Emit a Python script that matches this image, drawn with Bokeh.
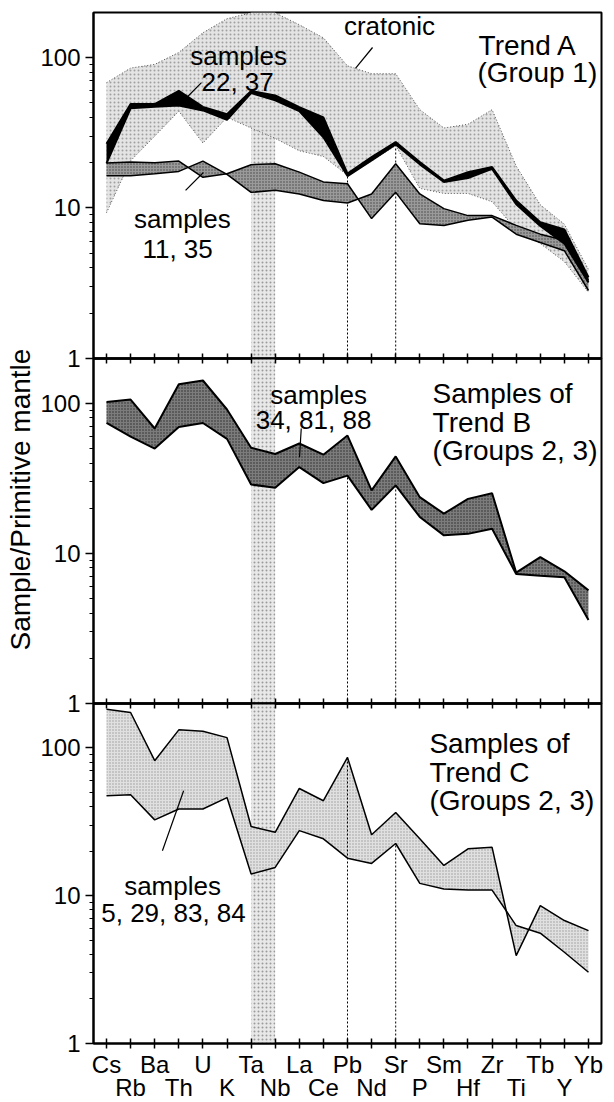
import math
from bokeh.plotting import figure
from bokeh.layouts import column
from bokeh.models import (FixedTicker, LinearAxis, Range1d, BoxAnnotation, Label, Title,
                          PrintfTickFormatter, ColumnDataSource)
from bokeh.embed import file_html
from bokeh.resources import INLINE

elements = ["Cs", "Rb", "Ba", "Th", "U", "K", "Ta", "Nb", "La", "Ce", "Pb",
            "Nd", "Sr", "P", "Sm", "Hf", "Zr", "Ti", "Tb", "Y", "Yb"]

# ---- Trend A (Group 1) ----
cratonic_hi = [68, 85, 90, 108, 146, 181, 198, 198, 165, 135, 88, 78, 78, 45, 34, 36, 45, 19, 10.5, 7.8, 3.9]
cratonic_lo = [9.3, 20.6, 30, 44, 27, 40, 34, 29, 24, 22, 16.5, 20.5, 26, 13.5, 12.5, 12.5, 11, 7.2, 5.8, 4.4, 2.75]
s22_37_hi = [26.7, 49, 49, 60, 47, 42, 60, 56, 46.8, 40, 16.9, 21.8, 27.4, 20.2, 15.2, 17.3, 18.7, 11.2, 8.05, 7.2, 3.47]
s22_37_lo = [19.8, 46, 47, 48, 44.5, 38.5, 58, 52, 44, 29.5, 16.3, 20.7, 26.4, 19.5, 14.9, 15.8, 18.2, 10.6, 7.6, 5.8, 3.2]
s11_35_a = [19.9, 20.2, 20, 20.5, 16, 16.9, 19.4, 19.7, 17.3, 14.9, 14.5, 8.5, 12.7, 7.85, 7.66, 8.3, 8.7, 6.7, 5.9, 5.2, 2.83]
s11_35_b = [16.4, 16.4, 16.9, 17.5, 20.5, 16.7, 12.7, 13.1, 12.4, 11.2, 10.8, 12.4, 19.7, 12.4, 9.9, 8.9, 8.9, 7.66, 6.7, 6.1, 3.3]

# ---- Trend B (Groups 2, 3) ----
trendB_hi = [102, 106, 68, 134, 142, 91, 50.6, 46, 54, 45.5, 61, 26.3, 44.3, 23.7, 18.4, 23.1, 25.2, 7.45, 9.45, 7.6, 5.67]
trendB_lo = [74, 60, 50, 69.5, 74, 58, 28.8, 27.4, 37.6, 29.4, 33, 19.5, 28.4, 17.5, 13.2, 13.5, 14.6, 7.3, 7.1, 6.95, 3.6]

# ---- Trend C (Groups 2, 3) ----
trendC_a = [182, 173, 81.7, 132, 129, 117, 29.3, 26.8, 53, 43.8, 86, 25.8, 36.5, 24.2, 16, 20.7, 21.2, 3.93, 8.55, 6.78, 5.8]
trendC_b = [47.4, 48, 32.5, 38.5, 38.5, 46, 14, 15.5, 27.5, 24.2, 17.9, 16.5, 22.5, 12.1, 11.1, 10.9, 10.9, 6.27, 5.57, 4.14, 3.03]

y_ticks = [1, 10, 100]
y_minor = [m * d for d in (1, 10, 100) for m in range(2, 10)]

FONT = "Liberation Sans"
OVER = 14  # room kept below/above each frame for the "1" tick label; panels overlap by it
idx = list(range(len(elements)))
TA, NB, PB, SR = (elements.index(e) for e in ("Ta", "Nb", "Pb", "Sr"))


def base_panel(frame_h, border_top, border_bottom, pull_up, transparent):
    kw = {}
    if pull_up:
        kw["margin"] = (-pull_up, 0, 0, 0)
    p = figure(frame_width=508, frame_height=frame_h,
               x_range=Range1d(-0.54, 20.54), y_range=Range1d(1, 199),
               y_axis_type="log", x_axis_location=None,
               output_backend="svg", toolbar_location=None,
               min_border_left=93, min_border_right=8,
               min_border_top=border_top, min_border_bottom=border_bottom,
               background_fill_color=None if transparent else "white",
               border_fill_color=None if transparent else "white", **kw)
    p.xgrid.visible = False
    p.ygrid.visible = False
    p.outline_line_color = "black"
    p.outline_line_width = 2
    ya = p.yaxis[0]
    ya.ticker = FixedTicker(ticks=y_ticks, minor_ticks=y_minor)
    ya.formatter = PrintfTickFormatter(format="%d")
    ya.major_tick_out = 8
    ya.major_tick_in = 0
    ya.minor_tick_out = 4
    ya.minor_tick_in = 0
    ya.major_tick_line_width = 1.5
    ya.axis_line_width = 2
    ya.major_label_standoff = 5
    ya.major_label_text_font = FONT
    ya.major_label_text_font_size = "24px"
    ya.major_label_text_color = "black"
    # stippled vertical band Ta-Nb
    p.add_layout(BoxAnnotation(left=TA, right=NB, level="underlay",
                               fill_color="#e8e8e8", fill_alpha=1.0, line_color=None,
                               hatch_pattern="dot", hatch_color="#9a9a9a",
                               hatch_scale=4, hatch_weight=1))
    return p


def tick_axis(p, place):
    # crossing tick marks along a shared panel boundary (minor ticks carry no labels)
    ax = LinearAxis(ticker=FixedTicker(ticks=[], minor_ticks=idx),
                    minor_tick_in=5, minor_tick_out=0,
                    major_tick_in=0, major_tick_out=0,
                    major_label_standoff=0,
                    axis_line_width=2, minor_tick_line_width=1.5,
                    minor_tick_line_color="black")
    p.add_layout(ax, place)


def label(p, x, y, text, align="center", size="26px"):
    p.add_layout(Label(x=x, y=y, text=text, text_align=align, text_baseline="alphabetic",
                       text_font=FONT, text_font_size=size, text_color="black"))


def band(p, a, b, fill, hatch_color, line_w=1.5):
    src = ColumnDataSource(dict(x=idx, a=a, b=b))
    p.varea(x="x", y1="a", y2="b", source=src, fill_color=fill, fill_alpha=1.0,
            hatch_pattern="dot", hatch_color=hatch_color, hatch_scale=3, hatch_weight=1)
    p.line(x="x", y="a", source=src, line_color="black", line_width=line_w)
    p.line(x="x", y="b", source=src, line_color="black", line_width=line_w)


# ================= Panel A =================
p1 = base_panel(346, 12, OVER, 0, False)
tick_axis(p1, "below")
csrc = ColumnDataSource(dict(x=idx, hi=cratonic_hi, lo=cratonic_lo))
p1.varea(x="x", y1="hi", y2="lo", source=csrc, fill_color="#e4e4e4", fill_alpha=1.0,
         hatch_pattern="dot", hatch_color="#a0a0a0", hatch_scale=4, hatch_weight=1)
p1.line(x="x", y="hi", source=csrc, line_color="#555555", line_width=1, line_dash="1 2")
p1.line(x="x", y="lo", source=csrc, line_color="#555555", line_width=1, line_dash="1 2")
p1.segment(x0=[PB, SR], y0=[1, 1], x1=[PB, SR], y1=[s22_37_hi[PB], s22_37_hi[SR]],
           line_color="black", line_width=1, line_dash="2 2")
band(p1, s11_35_a, s11_35_b, "#9a9a9a", "#444444")
bsrc = ColumnDataSource(dict(x=idx, hi=s22_37_hi, lo=s22_37_lo))
p1.varea(x="x", y1="hi", y2="lo", source=bsrc, fill_color="black")
p1.line(x="x", y="hi", source=bsrc, line_color="black", line_width=2)
p1.line(x="x", y="lo", source=bsrc, line_color="black", line_width=2)
label(p1, 5.48, 103, "samples")
label(p1, 5.44, 68.2, "22, 37")
p1.segment(x0=[3.94], y0=[68], x1=[3.32], y1=[54], line_color="black", line_width=1.2)
label(p1, 11.74, 160.7, "cratonic")
p1.segment(x0=[11.04], y0=[116.5], x1=[10.33], y1=[84.5], line_color="black", line_width=1.2)
label(p1, 15.44, 120, "Trend A", align="left", size="28px")
label(p1, 15.39, 79.5, "(Group 1)", align="left", size="28px")
label(p1, 3.15, 8.5, "samples")
label(p1, 2.95, 5.38, "11, 35")
p1.segment(x0=[3.28], y0=[13.1], x1=[4.02], y1=[17.2], line_color="black", line_width=1.2)

# ================= Panel B =================
p2 = base_panel(345, OVER, OVER, 2 * OVER, True)
tick_axis(p2, "above")
tick_axis(p2, "below")
p2.add_layout(Title(text="Sample/Primitive mantle", align="left", offset=53, standoff=3,
                    text_font=FONT, text_font_size="28px", text_font_style="normal",
                    text_color="black"), "left")
p2.segment(x0=[PB, SR], y0=[1, 1], x1=[PB, SR], y1=[trendB_lo[PB], trendB_lo[SR]],
           line_color="black", line_width=1, line_dash="2 2")
band(p2, trendB_hi, trendB_lo, "#7c7c7c", "#2a2a2a", line_w=2)
label(p2, 8.80, 113, "samples")
label(p2, 8.59, 77, "34, 81, 88")
p2.segment(x0=[8.08], y0=[68], x1=[8.01], y1=[43.7], line_color="black", line_width=1.2)
label(p2, 13.53, 116.6, "Samples of", align="left", size="28px")
label(p2, 13.53, 74.7, "Trend B", align="left", size="28px")
label(p2, 13.53, 48.6, "(Groups 2, 3)", align="left", size="28px")

# ================= Panel C =================
p3 = base_panel(340, OVER, 0, 2 * OVER, True)
tick_axis(p3, "above")
axA = LinearAxis(ticker=FixedTicker(ticks=idx, minor_ticks=[]),
                 major_label_overrides={i: (elements[i] if i % 2 == 0 else "") for i in idx},
                 major_tick_in=5, major_tick_out=5, major_label_standoff=2,
                 axis_line_width=2, major_tick_line_width=1.5,
                 major_label_text_font=FONT, major_label_text_font_size="24px",
                 major_label_text_color="black")
p3.add_layout(axA, "below")
odd = [i for i in idx if i % 2 == 1]
axB = LinearAxis(ticker=FixedTicker(ticks=odd, minor_ticks=[]),
                 major_label_overrides={i: elements[i] for i in odd},
                 major_tick_in=0, major_tick_out=0, major_label_standoff=-7,
                 axis_line_color=None,
                 major_label_text_font=FONT, major_label_text_font_size="24px",
                 major_label_text_color="black")
p3.add_layout(axB, "below")
src3 = ColumnDataSource(dict(x=idx, a=trendC_a, b=trendC_b))
p3.varea(x="x", y1="a", y2="b", source=src3, fill_color="#e0e0e0", fill_alpha=1.0,
         hatch_pattern="dot", hatch_color="#9a9a9a", hatch_scale=3, hatch_weight=1)
p3.segment(x0=[PB, SR], y0=[1, 1], x1=[PB, SR], y1=[trendC_a[PB], trendC_b[SR]],
           line_color="black", line_width=1, line_dash="2 2")
p3.line(x="x", y="a", source=src3, line_color="black", line_width=1.5)
p3.line(x="x", y="b", source=src3, line_color="black", line_width=1.5)
label(p3, 13.40, 106, "Samples of", align="left", size="28px")
label(p3, 13.40, 67.8, "Trend C", align="left", size="28px")
label(p3, 13.40, 43.8, "(Groups 2, 3)", align="left", size="28px")
label(p3, 2.74, 11.7, "samples")
label(p3, 2.78, 7.68, "5, 29, 83, 84")
p3.segment(x0=[2.32], y0=[20.1], x1=[3.20], y1=[51.2], line_color="black", line_width=1.2)

layout = column(p1, p2, p3, spacing=0)
open("out.html", "w").write(file_html(layout, INLINE))
